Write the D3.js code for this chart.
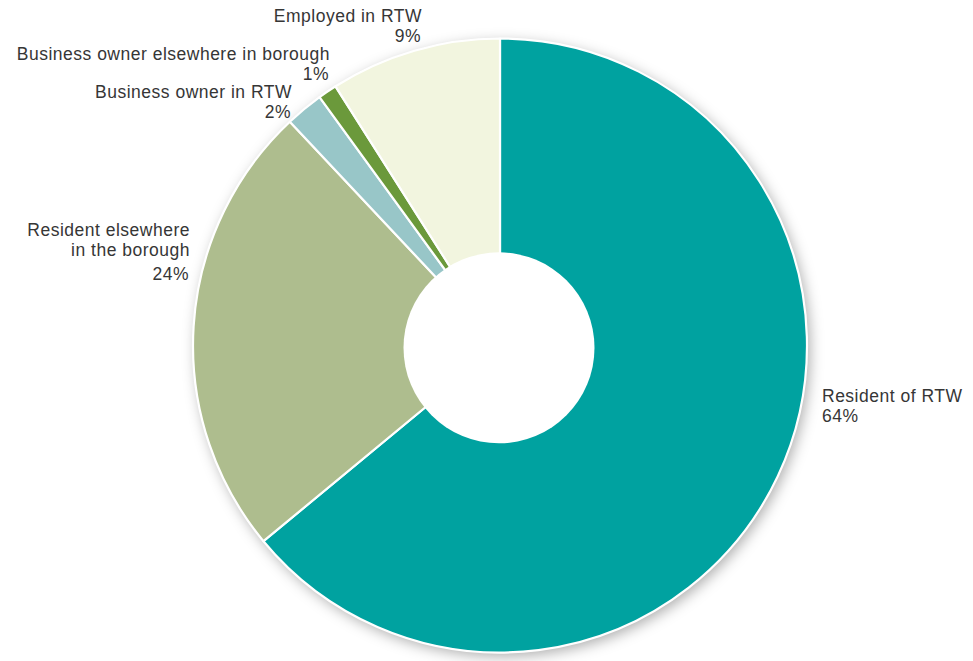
<!DOCTYPE html>
<html>
<head>
<meta charset="utf-8">
<script src="https://cdn.jsdelivr.net/npm/d3@7"></script>
<style>
  html, body { margin: 0; padding: 0; background: #fff; }
  svg { display: block; }
  text { font-family: "Liberation Sans", Arial, Helvetica, sans-serif; fill: #363636; }
</style>
</head>
<body>
<script>
// Share of respondents by relationship to RTW
const categories = [
  "Resident of RTW",
  "Resident elsewhere in the borough",
  "Business owner in RTW",
  "Business owner elsewhere in borough",
  "Employed in RTW"
];
const values = [64, 24, 2, 1, 9];
const colors = ["#00A2A0", "#AEBD8E", "#98C6C8", "#6B993B", "#F2F5DF"];

// Label text lines per slice (the percentage is added underneath)
const labelLines = [
  ["Resident of RTW"],
  ["Resident elsewhere", "in the borough"],
  ["Business owner in RTW"],
  ["Business owner elsewhere in borough"],
  ["Employed in RTW"]
];

const W = 973, H = 661;
const cx = 500, cy = 345.5, outerR = 307, innerR = 95.5;

const svg = d3.select("body").append("svg")
  .attr("width", W).attr("height", H);

const defs = svg.append("defs");
const f = defs.append("filter").attr("id", "soft")
  .attr("x", "-20%").attr("y", "-20%").attr("width", "140%").attr("height", "140%");
f.append("feDropShadow")
  .attr("dx", 3).attr("dy", 4).attr("stdDeviation", 7)
  .attr("flood-color", "#000").attr("flood-opacity", 0.32);

const data = categories.map((c, i) => ({ name: c, value: values[i], color: colors[i], lines: labelLines[i] }));

const pie = d3.pie().sort(null).value(d => d.value);
const arcs = pie(data);
const arc = d3.arc().innerRadius(0).outerRadius(outerR);

const g = svg.append("g").attr("transform", `translate(${cx},${cy})`);

// soft shadow disc behind the ring
g.append("circle").attr("r", outerR).attr("fill", "#fff").attr("filter", "url(#soft)");

g.selectAll("path.slice").data(arcs).join("path")
  .attr("class", "slice")
  .attr("d", arc)
  .attr("fill", d => d.data.color)
  .attr("stroke", "#fff")
  .attr("stroke-width", 2.2)
  .attr("stroke-linejoin", "round");

// centre hole
svg.append("circle").attr("cx", 499).attr("cy", 347.8).attr("r", innerR).attr("fill", "#fff");

// Labels: anchor point and alignment per slice
const labelPos = [
  { x: 822, y: 402, anchor: "start" },
  { x: 190, y: 236, anchor: "end" },
  { x: 292, y: 98, anchor: "end" },
  { x: 330, y: 60, anchor: "end" },
  { x: 422, y: 22, anchor: "end" }
];
const lineH = 19.5;
const fs = 17.5;

data.forEach((d, i) => {
  const p = labelPos[i];
  const t = svg.append("text")
    .attr("x", p.x).attr("y", p.y)
    .attr("text-anchor", p.anchor)
    .attr("font-size", fs)
    .attr("letter-spacing", 0.5);
  d.lines.forEach((ln, k) => {
    t.append("tspan").attr("x", p.x).attr("dy", k === 0 ? 0 : lineH).text(ln);
  });
  t.append("tspan").attr("x", p.x - (p.anchor === "end" ? 1 : 0))
    .attr("dy", i === 1 ? lineH + 5 : lineH)
    .text(d3.format("d")(d.value) + "%");
});
</script>
</body>
</html>
